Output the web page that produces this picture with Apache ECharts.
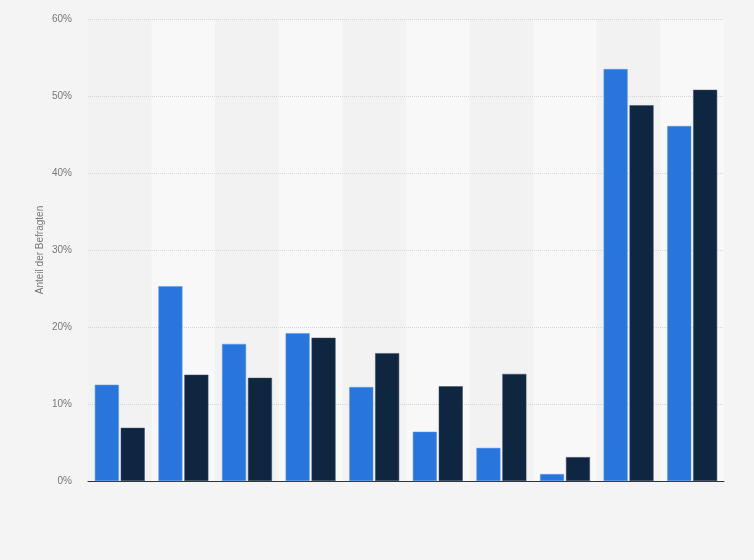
<!DOCTYPE html>
<html>
<head>
<meta charset="utf-8">
<script src="https://cdn.jsdelivr.net/npm/echarts@6/dist/echarts.min.js"></script>
<style>
  html, body { margin: 0; padding: 0; background: #f4f4f4; }
  #chart { width: 754px; height: 560px; }
</style>
</head>
<body>
<div id="chart"></div>
<script>
// categories have no visible labels in the reference
const categories = ['A', 'B', 'C', 'D', 'E', 'F', 'G', 'H', 'I', 'J'];
const seriesBlue = [12.5, 25.3, 17.8, 19.2, 12.2, 6.4, 4.3, 0.9, 53.5, 46.1];
const seriesDark = [6.9, 13.8, 13.4, 18.6, 16.6, 12.3, 13.9, 3.1, 48.8, 50.8];
const yTicks = [0, 10, 20, 30, 40, 50, 60];

const chart = echarts.init(document.getElementById('chart'), null, { renderer: 'canvas' });
chart.setOption({
  backgroundColor: '#f4f4f4',
  animation: false,
  grid: { left: 88, right: 30, top: 19, bottom: 79 },
  xAxis: {
    type: 'category',
    data: categories,
    z: 0,
    axisTick: { show: false },
    axisLabel: { show: false },
    axisLine: { lineStyle: { color: '#333333', width: 1 } },
    splitArea: {
      show: true,
      areaStyle: { color: ['#f2f2f2', '#f8f8f8'] }
    }
  },
  yAxis: {
    type: 'value',
    z: 1,
    min: yTicks[0],
    max: yTicks[yTicks.length - 1],
    interval: 10,
    name: 'Anteil der Befragten',
    nameLocation: 'middle',
    nameGap: 43,
    nameMoveOverlap: false,
    nameTextStyle: { color: '#777777', fontSize: 10, fontFamily: 'Arial, Liberation Sans, sans-serif' },
    axisLine: { show: false },
    axisTick: { show: false },
    axisLabel: {
      color: '#777777',
      fontSize: 10,
      fontFamily: 'Arial, Liberation Sans, sans-serif',
      margin: 16,
      formatter: v => v + '%'
    },
    splitLine: {
      showMinLine: false,
      lineStyle: { color: '#d6d6d6', type: [1, 1], width: 1 }
    }
  },
  series: [
    {
      type: 'bar',
      z: 3,
      data: seriesBlue,
      barWidth: 24,
      barGap: '8%',
      itemStyle: { color: '#2876dd', borderColor: '#5b97e6', borderWidth: 0.5 }
    },
    {
      type: 'bar',
      z: 3,
      data: seriesDark,
      barWidth: 24,
      itemStyle: { color: '#0f2640', borderColor: '#3a4e66', borderWidth: 0.5 }
    }
  ]
});
</script>
</body>
</html>
